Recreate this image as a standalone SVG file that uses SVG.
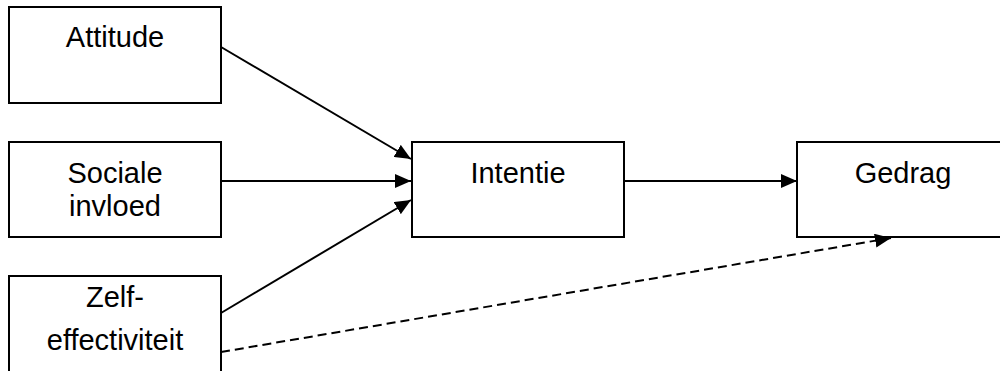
<svg xmlns="http://www.w3.org/2000/svg" width="1000" height="371" viewBox="0 0 1000 371">
<style>
.box{fill:#fff;stroke:#000;stroke-width:2}
.lbl{font-family:"Liberation Sans",Arial,sans-serif;font-size:29px;fill:#000;text-anchor:middle}
.con{stroke:#000;stroke-width:2;fill:none}
.dash{stroke-dasharray:9,5}
</style>
<defs>
<marker id="ah" markerUnits="userSpaceOnUse" markerWidth="18" markerHeight="14" refX="16" refY="7" orient="auto">
<path d="M0,0 L16,7 L0,14 Z" fill="#000"/>
</marker>
</defs>
<g id="attitude"><rect class="box" x="9" y="7" width="212" height="96"/><text class="lbl" x="115" y="47">Attitude</text></g>
<g id="sociale"><rect class="box" x="9" y="142" width="212" height="95"/><text class="lbl" x="115" y="183">Sociale</text><text class="lbl" x="115" y="216">invloed</text></g>
<g id="zelf"><rect class="box" x="9" y="276" width="212" height="110"/><text class="lbl" x="115" y="307">Zelf-</text><text class="lbl" x="115" y="350">effectiviteit</text></g>
<g id="intentie"><rect class="box" x="412" y="142" width="212" height="95"/><text class="lbl" x="518" y="183">Intentie</text></g>
<g id="gedrag"><rect class="box" x="797" y="142" width="212" height="95"/><text class="lbl" x="903" y="183">Gedrag</text></g>
<g id="connectors">
<line class="con" x1="221" y1="47" x2="411" y2="159" marker-end="url(#ah)"/>
<line class="con" x1="221" y1="181" x2="411" y2="181" marker-end="url(#ah)"/>
<line class="con" x1="221" y1="313" x2="411" y2="200" marker-end="url(#ah)"/>
<line class="con" x1="624" y1="181" x2="797" y2="181" marker-end="url(#ah)"/>
<line class="con dash" x1="221" y1="352" x2="891" y2="238" marker-end="url(#ah)"/>
</g>
</svg>
